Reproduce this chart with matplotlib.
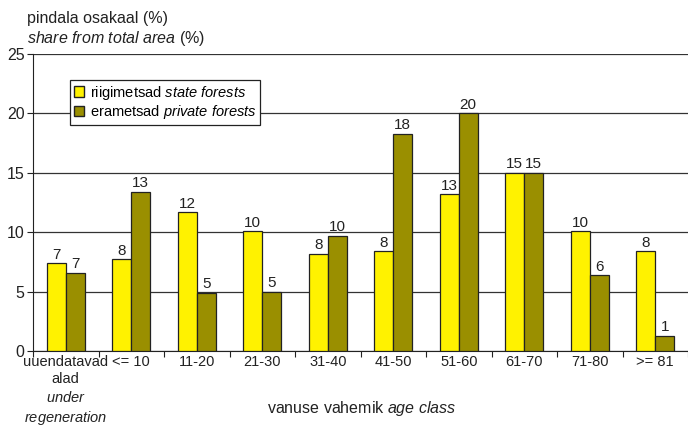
import numpy as np
import matplotlib
matplotlib.use('Agg')
import matplotlib.pyplot as plt
from matplotlib.patches import Patch

plt.rcParams['font.family'] = ['Liberation Sans', 'DejaVu Sans']
plt.rcParams['mathtext.fontset'] = 'custom'
plt.rcParams['mathtext.rm'] = 'Liberation Sans'
plt.rcParams['mathtext.it'] = 'Liberation Sans:italic'

categories = ['uuendatavad\nalad\n$\\it{under}$\n$\\it{regeneration}$', '<= 10', '11-20', '21-30',
              '31-40', '41-50', '51-60', '61-70', '71-80', '>= 81']
state = [7.4, 7.75, 11.7, 10.1, 8.2, 8.4, 13.2, 15.0, 10.1, 8.4]
private = [6.6, 13.4, 4.9, 5.0, 9.7, 18.3, 20.0, 15.0, 6.4, 1.3]
state_lbl = [7, 8, 12, 10, 8, 8, 13, 15, 10, 8]
private_lbl = [7, 13, 5, 5, 10, 18, 20, 15, 6, 1]

c_state = '#fff200'
c_private = '#9a8f00'

fig = plt.figure(figsize=(6.88, 4.26), dpi=100)
ax = fig.add_axes([33/688, 1 - 351/426, 655/688, 297/426])

x = np.arange(len(categories))
w = 0.29
ax.bar(x - w/2, state, w, color=c_state, edgecolor='#222222', linewidth=0.9, zorder=3)
ax.bar(x + w/2, private, w, color=c_private, edgecolor='#222222', linewidth=0.9, zorder=3)

for xi, v, l in zip(x, state, state_lbl):
    ax.text(xi - w/2, v + 0.12, str(l), ha='center', va='bottom', fontsize=11, color='#222222')
for xi, v, l in zip(x, private, private_lbl):
    ax.text(xi + w/2, v + 0.12, str(l), ha='center', va='bottom', fontsize=11, color='#222222')

ax.set_xlim(-0.5, len(categories) - 0.5)
ax.set_ylim(0, 25)
ax.set_yticks([0, 5, 10, 15, 20, 25])
ax.yaxis.grid(True, color='#333333', linewidth=0.9, zorder=0)
ax.set_axisbelow(True)
ax.spines['right'].set_visible(False)
ax.spines['top'].set_visible(False)
ax.spines['left'].set_color('#222222')
ax.spines['bottom'].set_color('#222222')

ax.set_xticks(np.arange(len(categories) + 1) - 0.5, minor=False)
ax.set_xticklabels([])
ax.set_xticks(x, minor=True)
ax.set_xticklabels(categories, minor=True, fontsize=10.5, linespacing=1.3, color='#222222')
ax.tick_params(axis='x', which='major', length=4, direction='out', color='#222222')
ax.tick_params(axis='x', which='minor', length=0, pad=3)
ax.tick_params(axis='y', length=4, direction='out', labelsize=11.5, pad=2, color='#222222',
               labelcolor='#222222')

fig.text(27/688, 1 - 18/426, 'pindala osakaal (%)', fontsize=11.5, va='center', ha='left', color='#222222')
fig.text(27/688, 1 - 38/426, '$\\it{share\\ from\\ total\\ area}$ (%)', fontsize=11.5, va='center',
         ha='left', color='#222222')
fig.text(362/688, 1 - 409/426, 'vanuse vahemik $\\it{age\\ class}$', fontsize=11.5, va='center',
         ha='center', color='#222222')

handles = [Patch(facecolor=c_state, edgecolor='#222222'), Patch(facecolor=c_private, edgecolor='#222222')]
leg = ax.legend(handles, ['riigimetsad $\\it{state\\ forests}$', 'erametsad $\\it{private\\ forests}$'],
                loc='upper left', bbox_to_anchor=(37/655, 1 - 26/297), fontsize=10.5, frameon=True,
                fancybox=False, edgecolor='#222222', framealpha=1, handlelength=0.7, handleheight=0.7,
                handletextpad=0.4, borderpad=0.25, labelspacing=0.1, borderaxespad=0)
leg.get_frame().set_linewidth(0.9)
leg.set_zorder(5)

fig.savefig('out.png', dpi=100)
